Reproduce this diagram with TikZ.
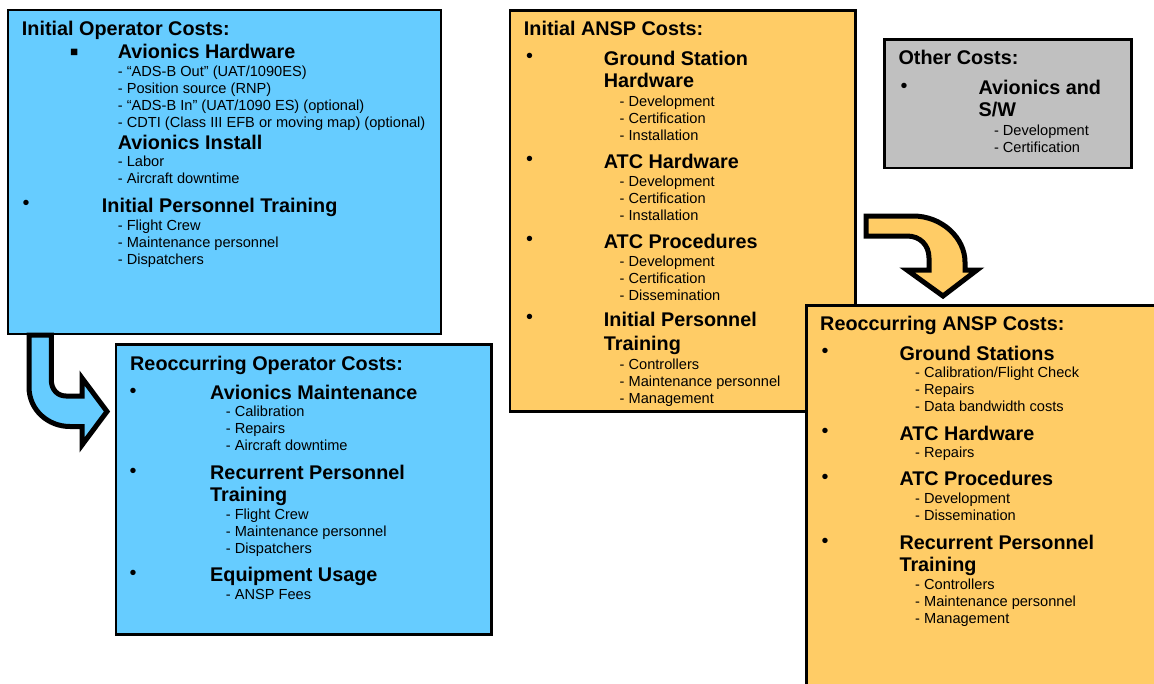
\documentclass[tikz,border=0pt]{standalone}
\usepackage{fontspec}
\setmainfont{Liberation Sans}
\definecolor{opblue}{HTML}{66CCFF}
\definecolor{anspyellow}{HTML}{FFCC66}
\definecolor{othergray}{HTML}{C0C0C0}
\begin{document}
\begin{tikzpicture}[x=1pt,y=-1pt,
  box/.style={draw,line width=2.5pt,anchor=north west,inner sep=0,outer sep=0},
  bigarrow/.style={draw,line width=5pt,line join=miter,miter limit=10},
  ttl/.style={font=\bfseries\fontsize{19.8}{23}\selectfont,anchor=base west,inner sep=0},
  sub/.style={font=\fontsize{14.6}{17}\selectfont,anchor=base west,inner sep=0},
  dot/.style={font=\fontsize{19.8}{23}\selectfont,anchor=base west,inner sep=0}]
\useasboundingbox (0,0) rectangle (1154,683);
\clip (0,0) rectangle (1154,683);

\node[box,fill=opblue,minimum width=433pt,minimum height=324pt] (iop) at (8,10) {};
\node[box,fill=anspyellow,minimum width=345.5pt,minimum height=401.2pt] (ians) at (510,10.3) {};
\node[box,fill=othergray,minimum width=246.9pt,minimum height=128.3pt] (oth) at (884.5,39.5) {};
\node[box,fill=anspyellow,minimum width=370pt,minimum height=400pt] (rans) at (806.7,305.5) {};
\node[box,fill=opblue,minimum width=375.3pt,minimum height=290pt] (rop) at (116,344.7) {};

\draw[bigarrow,fill=opblue] (29,335) -- (29,387) .. controls (29,410) and (48,426.5) .. (70,426.5)
  -- (82,426.5) -- (82,445) -- (107,411.5) -- (82,378) -- (82,396) -- (66,396)
  .. controls (57,396) and (51.3,389) .. (51.3,380) -- (51.3,335) -- cycle;
\draw[bigarrow,fill=anspyellow] (866,216) -- (913,216) .. controls (942,216) and (965,238) .. (965,262)
  -- (965,270) -- (977,270) -- (943,296) -- (907,270) -- (929,270) -- (929,258)
  .. controls (929,245) and (920,236) .. (907,236) -- (866,236) -- cycle;

\node[ttl] (iop-t) at (21.7,35) {Initial Operator Costs:};
\node[dot,font=\fontsize{26}{28}\selectfont] (iop-b1) at (69.5,60) {▪};
\node[ttl] (iop-h1) at (117.7,58) {Avionics Hardware};
\foreach \t [count=\i] in {“ADS-B Out” (UAT/1090ES),Position source (RNP),“ADS-B In” (UAT/1090 ES) (optional),CDTI (Class III EFB or moving map) (optional)}{
\node[sub] (iop-a\i) at (117.7,{76+17*(\i-1)}) {- \t};
}
\node[ttl] (iop-h2) at (117.7,149) {Avionics Install};
\foreach \t [count=\i] in {Labor,Aircraft downtime}{
\node[sub] (iop-i\i) at (117.7,{166.5+17*(\i-1)}) {- \t};
}
\node[dot] (iop-b2) at (22.5,209) {•};
\node[ttl] (iop-h3) at (101.7,212) {Initial Personnel Training};
\foreach \t [count=\i] in {Flight Crew,Maintenance personnel,Dispatchers}{
\node[sub] (iop-p\i) at (117.7,{230+17*(\i-1)}) {- \t};
}

\node[ttl] (rop-t) at (130,370) {Reoccurring Operator Costs:};
\foreach \y [count=\i] in {397,477,579.3}{
\node[dot] (rop-b\i) at (129.5,\y) {•};
}
\node[ttl] (rop-h1) at (210,399) {Avionics Maintenance};
\foreach \t [count=\i] in {Calibration,Repairs,Aircraft downtime}{
\node[sub] (rop-m\i) at (225.7,{416.7+17*(\i-1)}) {- \t};
}
\node[ttl] (rop-h2) at (210,479) {Recurrent Personnel};
\node[ttl] (rop-h2b) at (210,501.7) {Training};
\foreach \t [count=\i] in {Flight Crew,Maintenance personnel,Dispatchers}{
\node[sub] (rop-p\i) at (225.7,{519.3+17*(\i-1)}) {- \t};
}
\node[ttl] (rop-h3) at (210,581.7) {Equipment Usage};
\node[sub] (rop-f1) at (225.7,599.3) {- ANSP Fees};

\node[ttl] (ians-t) at (523.7,35) {Initial ANSP Costs:};
\foreach \y [count=\i] in {62,165.3,245.3,323.7}{
\node[dot] (ians-b\i) at (526,\y) {•};
}
\node[ttl] (ians-h1) at (603.7,65) {Ground Station};
\node[ttl] (ians-h1b) at (603.7,87.7) {Hardware};
\foreach \t [count=\i] in {Development,Certification,Installation}{
\node[sub] (ians-g\i) at (619.5,{106+17*(\i-1)}) {- \t};
}
\node[ttl] (ians-h2) at (603.7,168.3) {ATC Hardware};
\foreach \t [count=\i] in {Development,Certification,Installation}{
\node[sub] (ians-w\i) at (619.5,{186+17*(\i-1)}) {- \t};
}
\node[ttl] (ians-h3) at (603.7,248.3) {ATC Procedures};
\foreach \t [count=\i] in {Development,Certification,Dissemination}{
\node[sub] (ians-c\i) at (619.5,{266+17*(\i-1)}) {- \t};
}
\node[ttl] (ians-h4) at (603.7,326.7) {Initial Personnel};
\node[ttl] (ians-h4b) at (603.7,350) {Training};
\foreach \t [count=\i] in {Controllers,Maintenance personnel,Management}{
\node[sub] (ians-p\i) at (619.5,{369+17*(\i-1)}) {- \t};
}

\node[ttl] (oth-t) at (898.3,64) {Other Costs:};
\node[dot] (oth-b1) at (900.5,92) {•};
\node[ttl] (oth-h1) at (978.4,94.3) {Avionics and};
\node[ttl] (oth-h1b) at (978.4,116.7) {S/W};
\foreach \t [count=\i] in {Development,Certification}{
\node[sub] (oth-s\i) at (993.8,{135+17*(\i-1)}) {- \t};
}

\node[ttl] (rans-t) at (820,330) {Reoccurring ANSP Costs:};
\foreach \y [count=\i] in {357.7,437.7,483.7,547}{
\node[dot] (rans-b\i) at (821.5,\y) {•};
}
\node[ttl] (rans-h1) at (899.3,360) {Ground Stations};
\foreach \t [count=\i] in {Calibration/Flight Check,Repairs,Data bandwidth costs}{
\node[sub] (rans-g\i) at (915,{377.7+17*(\i-1)}) {- \t};
}
\node[ttl] (rans-h2) at (899.3,440) {ATC Hardware};
\node[sub] (rans-w1) at (915,457.7) {- Repairs};
\node[ttl] (rans-h3) at (899.3,485.7) {ATC Procedures};
\foreach \t [count=\i] in {Development,Dissemination}{
\node[sub] (rans-c\i) at (915,{503.3+17*(\i-1)}) {- \t};
}
\node[ttl] (rans-h4) at (899.3,549.3) {Recurrent Personnel};
\node[ttl] (rans-h4b) at (899.3,571.7) {Training};
\foreach \t [count=\i] in {Controllers,Maintenance personnel,Management}{
\node[sub] (rans-p\i) at (915,{589.3+17*(\i-1)}) {- \t};
}
\end{tikzpicture}
\end{document}
